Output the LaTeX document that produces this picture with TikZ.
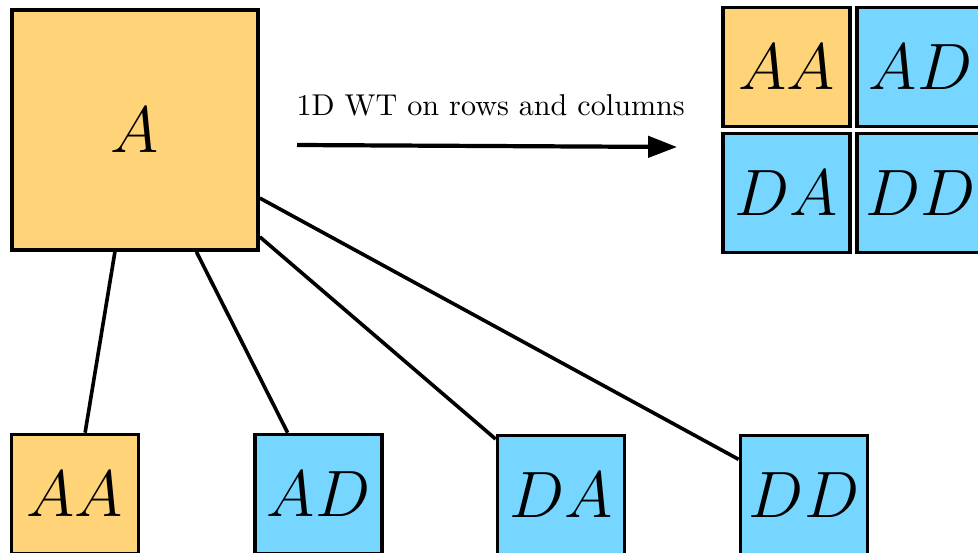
\documentclass[tikz,border=0pt]{standalone}
\usepackage{graphicx}
\usetikzlibrary{arrows.meta}
\definecolor{cantaloupe}{HTML}{FFD479}
\definecolor{sky}{HTML}{76D6FF}
\newcommand{\bandname}[1]{\scalebox{1.05}{$#1$}}

\begin{document}
\begin{tikzpicture}[x=0.332pt, y=-0.332pt]
\tikzstyle{band}=[draw, very thick, inner sep=0pt, font=\huge]
\tikzstyle{bigbox}=[band, fill=cantaloupe, minimum width=81.7pt, minimum height=79.7pt]
\tikzstyle{subbox}=[band, minimum width=42.2pt, minimum height=39.5pt]
\tikzstyle{approx}=[subbox, fill=cantaloupe]
\tikzstyle{detail}=[subbox, fill=sky]

\clip (0,0) rectangle (978,552);

\draw (135,130) node[bigbox] (A) {\bandname{A}};

% one level of the 2D transform
\draw (786.5,67) node[approx] (gAA) {\bandname{AA}};
\draw (920.5,67) node[detail] (gAD) {\bandname{AD}};
\draw (786.5,193) node[detail] (gDA) {\bandname{DA}};
\draw (920.5,193) node[detail] (gDD) {\bandname{DD}};

\coordinate (wtstart) at (297,145);
\coordinate (wtend) at (677,147);
\draw[line width=1.4pt, -{Triangle[length=9.6pt, width=7pt]}] (wtstart) -- node[above=6pt, xshift=1.2pt] {1D WT on rows and columns} (wtend);

% the four sub-bands below
\draw (75,494) node[approx] (AA) {\bandname{AA}};
\draw (318.5,494) node[detail] (AD) {\bandname{AD}};
\draw (561,495) node[detail] (DA) {\bandname{DA}};
\draw (804,495) node[detail] (DD) {\bandname{DD}};

\draw[very thick] (A) -- (AA);
\draw[very thick] (A) -- (AD);
\draw[very thick] (A) -- (DA);
\draw[very thick] (A) -- (DD);
\end{tikzpicture}
\end{document}
